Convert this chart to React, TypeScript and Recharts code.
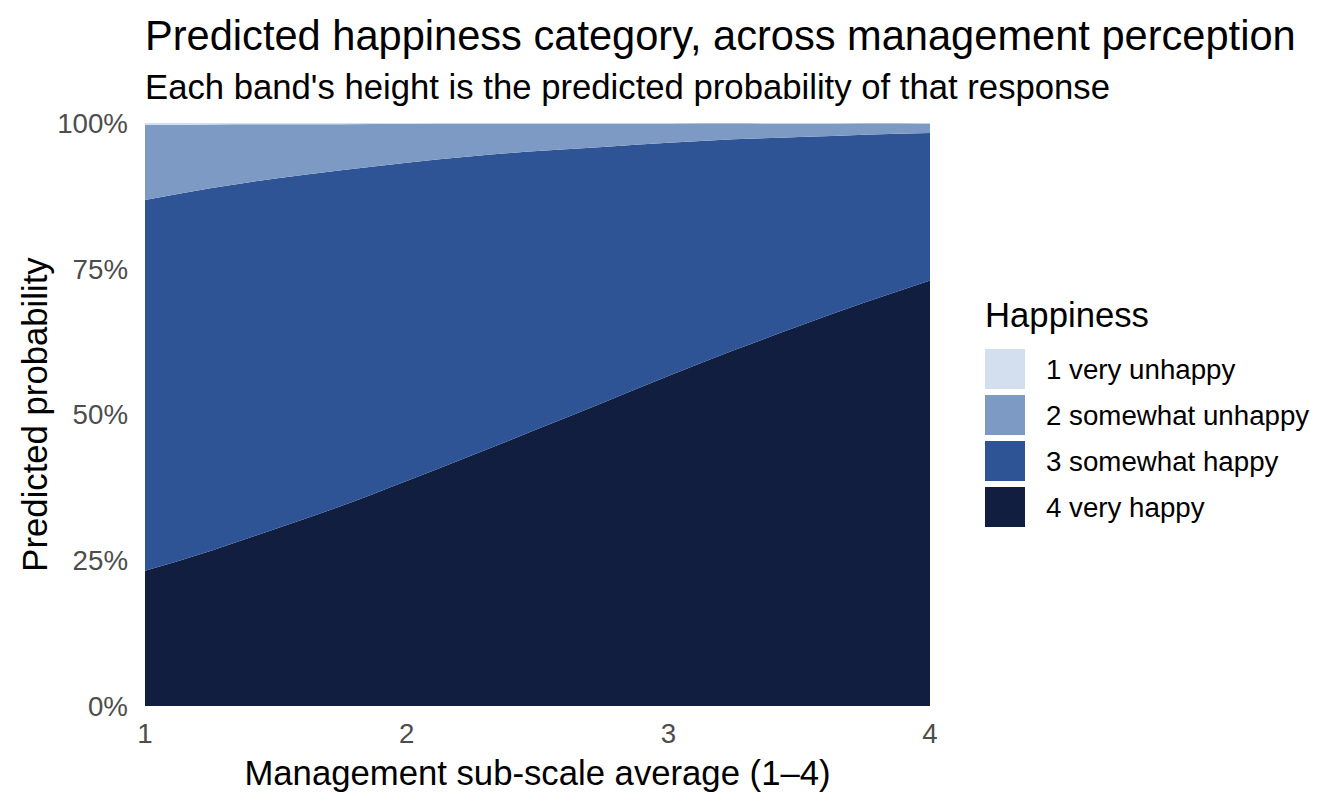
import { Area, AreaChart, XAxis, YAxis } from 'recharts'

// management sub-scale average (x)
const mgmt = [1, 1.25, 1.5, 1.75, 2, 2.25, 2.5, 2.75, 3, 3.25, 3.5, 3.75, 4]

// predicted probability of each response, in percent
const veryHappy = [23.2, 26.6, 30.4, 34.3, 38.6, 43.0, 47.5, 52.0, 56.6, 61.0, 65.2, 69.2, 73.0]
const somewhatHappy = [63.6, 62.2, 60.1, 57.6, 54.6, 51.3, 47.7, 43.9, 40.0, 36.2, 32.4, 28.8, 25.3]
const somewhatUnhappy = [12.9, 10.95, 9.3, 7.9, 6.65, 5.6, 4.7, 4.0, 3.3, 2.74, 2.3, 1.96, 1.6]
const veryUnhappy = [0.3, 0.25, 0.2, 0.2, 0.15, 0.1, 0.1, 0.1, 0.1, 0.06, 0.1, 0.04, 0.1]

const yTicks = [0, 25, 50, 75, 100]
const xTicks = [1, 2, 3, 4]

const legendItems = [
	{ key: 'veryUnhappy', label: '1 very unhappy', color: '#D3DFEF' },
	{ key: 'somewhatUnhappy', label: '2 somewhat unhappy', color: '#7D9AC5' },
	{ key: 'somewhatHappy', label: '3 somewhat happy', color: '#2E5496' },
	{ key: 'veryHappy', label: '4 very happy', color: '#111E3F' },
]

const colors: { [key: string]: string } = {
	veryHappy: '#111E3F',
	somewhatHappy: '#2E5496',
	somewhatUnhappy: '#7D9AC5',
	veryUnhappy: '#D3DFEF',
}

const font = '"Liberation Sans", Arial, Helvetica, sans-serif'

const data = mgmt.map((m, i) => ({
	mgmt: m,
	veryHappy: veryHappy[i],
	somewhatHappy: somewhatHappy[i],
	somewhatUnhappy: somewhatUnhappy[i],
	veryUnhappy: veryUnhappy[i],
}))

const stackOrder = ['veryHappy', 'somewhatHappy', 'somewhatUnhappy', 'veryUnhappy']

export default function App() {
	return (
		<div style={{ position: 'absolute', left: 0, top: 0, width: 1344, height: 806, background: '#fff', fontFamily: font }}>
			<AreaChart
				width={1344}
				height={806}
				data={data}
				margin={{ top: 123, right: 414, bottom: 0, left: 0 }}
			>
				<XAxis
					dataKey='mgmt'
					type='number'
					domain={[1, 4]}
					ticks={xTicks}
					height={100}
					axisLine={false}
					tickLine={false}
					tickSize={0}
					tickMargin={17}
					tick={{ fontSize: 27.7, fill: '#4D4D4D', fontFamily: font }}
				/>
				<YAxis
					type='number'
					domain={[0, 100]}
					ticks={yTicks}
					allowDataOverflow
					width={145}
					axisLine={false}
					tickLine={false}
					tickSize={0}
					tickMargin={17}
					tickFormatter={(v) => `${v}%`}
					tick={{ fontSize: 27.7, fill: '#4D4D4D', fontFamily: font }}
				/>
				{stackOrder.map((k) => (
					<Area
						key={k}
						type='monotone'
						dataKey={k}
						stackId='1'
						fill={colors[k]}
						fillOpacity={1}
						stroke='none'
						isAnimationActive={false}
					/>
				))}
			</AreaChart>
			<svg
				width={1344}
				height={806}
				style={{ position: 'absolute', left: 0, top: 0, pointerEvents: 'none' }}
				fontFamily={font}
			>
				<text x={145} y={50} fontSize={41.6} fill='#000'>
					Predicted happiness category, across management perception
				</text>
				<text x={145} y={99} fontSize={34.7} fill='#000'>
					Each band's height is the predicted probability of that response
				</text>
				<text x={537.5} y={785} fontSize={34.7} fill='#000' textAnchor='middle'>
					Management sub-scale average (1–4)
				</text>
				<text
					x={47}
					y={414.5}
					fontSize={34.7}
					fill='#000'
					textAnchor='middle'
					transform='rotate(-90 47 414.5)'
				>
					Predicted probability
				</text>
				<text x={985} y={327} fontSize={34.7} fill='#000'>
					Happiness
				</text>
				{legendItems.map((item, i) => (
					<g key={item.key}>
						<rect x={985} y={349 + i * 46} width={40} height={40} fill={item.color} />
						<text x={1046} y={369 + i * 46} dy='0.35em' fontSize={27.7} fill='#000'>
							{item.label}
						</text>
					</g>
				))}
			</svg>
		</div>
	)
}
